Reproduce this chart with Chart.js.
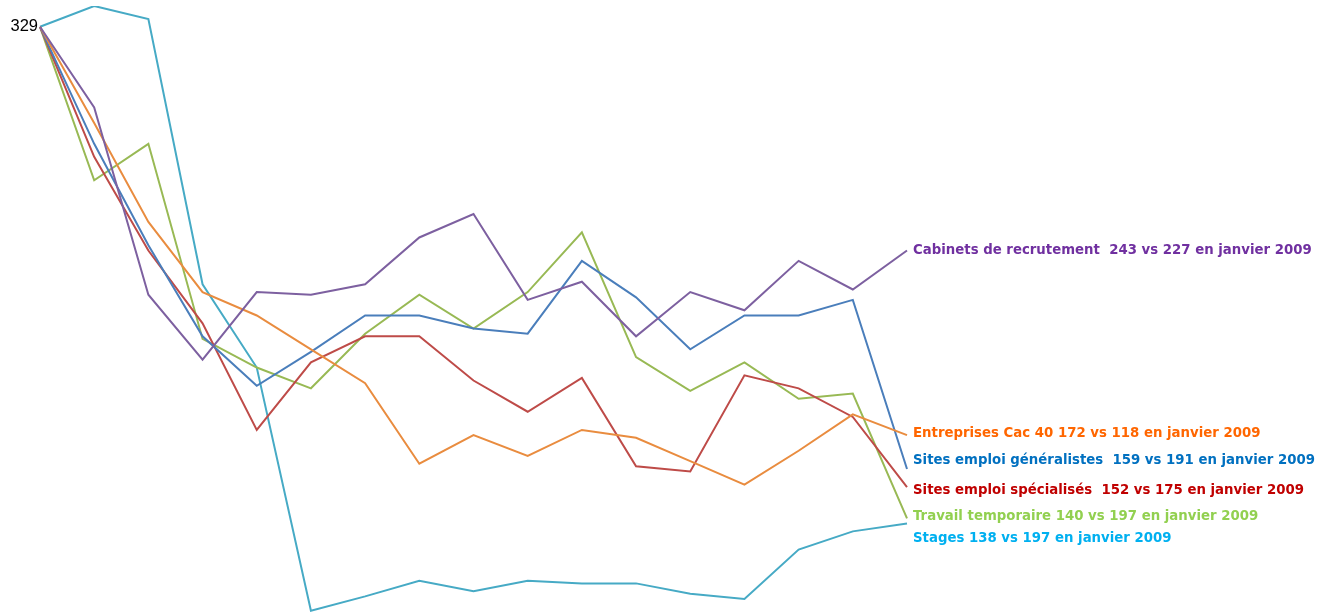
<!DOCTYPE html>
<html>
<head>
<meta charset="utf-8">
<script src="https://cdn.jsdelivr.net/npm/chart.js@4/dist/chart.umd.min.js"></script>
<style>
  html, body { margin: 0; padding: 0; background: #fff; }
  #wrap { width: 1330px; height: 613px; position: relative; }
</style>
</head>
<body>
<div id="wrap"><canvas id="chart"></canvas></div>
<script>
// 17 monthly points, base value 329 at the first one
const periods = ["1", "2", "3", "4", "5", "6", "7", "8", "9", "10", "11", "12", "13", "14", "15", "16", "17"];

const cabinets =     [329, 298, 226, 201, 227, 226, 230, 248, 257, 224, 231, 210, 227, 220, 239, 228, 243];
const entreprises =  [329, 292, 254, 227, 218, 205, 192, 161, 172, 164, 174, 171, 162, 153, 166, 180, 172];
const sitesGeneral = [329, 284, 245, 210, 191, 204, 218, 218, 213, 211, 239, 225, 205, 218, 218, 224, 159];
const sitesSpecial = [329, 279, 243, 215, 174, 200, 210, 210, 193, 181, 194, 160, 158, 195, 190, 179, 152];
const travailTemp =  [329, 270, 284, 209, 198, 190, 211, 226, 213, 227, 250, 202, 189, 200, 186, 188, 140];
const stages =       [329, 337, 332, 230, 198, 104.5, 110, 116, 112, 116, 115, 115, 111, 109, 128, 135, 138];

const endLabels = [
  "Cabinets de recrutement  243 vs 227 en janvier 2009",
  "Entreprises Cac 40 172 vs 118 en janvier 2009",
  "Sites emploi généralistes  159 vs 191 en janvier 2009",
  "Sites emploi spécialisés  152 vs 175 en janvier 2009",
  "Travail temporaire 140 vs 197 en janvier 2009",
  "Stages 138 vs 197 en janvier 2009",
];

const lineColors = ["#7D60A0", "#E98C3F", "#4A7EBB", "#BE4B48", "#98B954", "#46AAC5"];
const textColors = ["#7030A0", "#FF6600", "#0070C0", "#C00000", "#92D050", "#00B0F0"];
// vertical nudge (px) so the end labels don't collide
const labelNudge = [0, -2, -8, 3, -2, 15];

const series = [cabinets, entreprises, sitesGeneral, sitesSpecial, travailTemp, stages];

const endLabelPlugin = {
  id: "endLabels",
  afterDatasetsDraw(chart) {
    const ctx = chart.ctx;
    ctx.save();
    ctx.textBaseline = "middle";
    chart.data.datasets.forEach((ds, i) => {
      const meta = chart.getDatasetMeta(i);
      const last = meta.data[meta.data.length - 1];
      ctx.font = "bold 13.3px 'DejaVu Sans'";
      ctx.fillStyle = textColors[i];
      ctx.textAlign = "left";
      ctx.fillText(endLabels[i], last.x + 6, last.y + labelNudge[i]);
    });
    // base value label at the first point
    const first = chart.getDatasetMeta(0).data[0];
    ctx.font = "16.5px 'Liberation Sans'";
    ctx.fillStyle = "#000";
    ctx.textAlign = "right";
    ctx.fillText(String(cabinets[0]), first.x - 2, first.y);
    ctx.restore();
  },
};

new Chart(document.getElementById("chart"), {
  type: "line",
  data: {
    labels: periods,
    datasets: series.map((data, i) => ({
      label: endLabels[i],
      data,
      borderColor: lineColors[i],
      backgroundColor: "transparent",
      borderWidth: 2,
      pointRadius: 0,
      tension: 0,
    })),
  },
  options: {
    responsive: true,
    maintainAspectRatio: false,
    animation: false,
    layout: { padding: { left: 40, right: 423, top: 6, bottom: 1 } },
    plugins: { legend: { display: false }, tooltip: { enabled: false } },
    scales: {
      x: { display: false, offset: false },
      y: { display: false, min: 104, max: 337 },
    },
  },
  plugins: [endLabelPlugin],
});
</script>
</body>
</html>
